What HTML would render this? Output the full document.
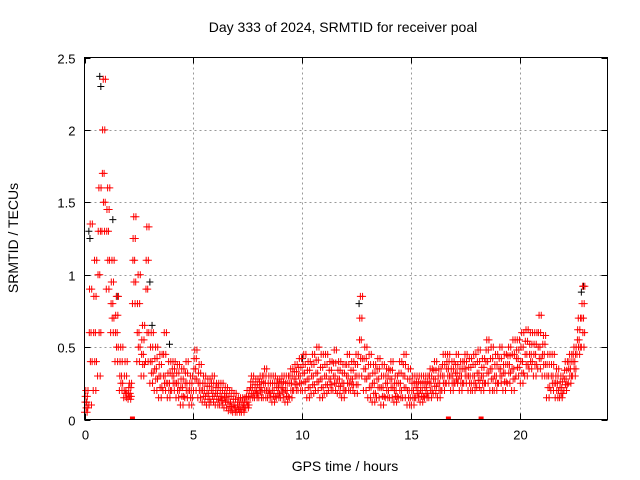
<!DOCTYPE html>
<html><head><meta charset="utf-8"><style>
body{margin:0;background:#fff;}
svg{display:block;font-family:"Liberation Sans",sans-serif;}
</style></head><body>
<svg id="chart" width="640" height="480" viewBox="0 0 640 480">
<text x="343" y="32" font-size="14" text-anchor="middle">Day 333 of 2024, SRMTID for receiver poal</text>
<text x="345" y="471" font-size="14" text-anchor="middle">GPS time / hours</text>
<text x="18" y="238" font-size="14" text-anchor="middle" transform="rotate(-90 18 238)">SRMTID / TECUs</text>
<g id="grid"></g>
<g id="ticks"></g>
<g id="marks"></g>
<rect x="84.5" y="57.5" width="523" height="362" fill="none" stroke="#000"/>
</svg>
<script>
const xTicks=[0,5,10,15,20];
const yTicks=[0,0.5,1,1.5,2,2.5];
const yTickLabels=["0","0.5","1","1.5","2","2.5"];
const redStart=0, redStep=0.2;
const redLo=[.05,.1,.2,.3,1.3,.9,.6,.4,.2,.15,.14,.8,.4,.3,.4,.25,.2,.15,.2,.15,.2,.15,.1,.15,.1,.2,.15,.12,.1,.12,.1,.1,.08,.06,.05,.05,.05,.08,.15,.15,.15,.15,.15,.12,.15,.15,.12,.15,.2,.2,.2,.15,.18,.2,.15,.18,.2,.2,.18,.15,.2,.2,.18,.3,.2,.15,.12,.15,.1,.15,.15,.12,.15,.15,.1,.1,.15,.12,.15,.15,.18,.15,.2,.25,.2,.25,.2,.25,.2,.2,.22,.2,.25,.2,.2,.25,.2,.25,.2,.3,.25,.3,.35,.3,.35,.3,.15,.2,.15,.15,.2,.25,.3,.45,.5];
const redQ1=[.08,.4,.4,.6,1.5,1.1,.7,.5,.25,.18,.16,.95,.5,.38,.6,.32,.28,.22,.25,.2,.25,.2,.16,.2,.15,.28,.2,.16,.14,.16,.14,.13,.12,.09,.08,.07,.08,.1,.18,.18,.19,.2,.18,.16,.18,.19,.16,.2,.24,.25,.26,.22,.24,.26,.22,.24,.24,.25,.23,.2,.25,.24,.24,.42,.28,.22,.18,.22,.16,.2,.22,.16,.2,.22,.15,.15,.18,.16,.18,.2,.23,.2,.25,.3,.25,.28,.25,.3,.25,.25,.27,.25,.32,.28,.25,.3,.26,.32,.28,.36,.32,.38,.4,.38,.42,.38,.22,.25,.2,.18,.24,.3,.35,.5,.6];
const redMid=[.12,.6,.6,1.0,1.7,1.3,.8,.6,.3,.2,.18,1.1,.6,.45,.9,.4,.35,.3,.3,.25,.3,.25,.22,.25,.2,.35,.25,.2,.18,.2,.18,.16,.15,.12,.1,.1,.1,.12,.22,.2,.22,.25,.2,.2,.22,.22,.2,.25,.28,.3,.32,.28,.3,.32,.28,.3,.28,.3,.28,.25,.3,.28,.3,.55,.35,.3,.25,.28,.22,.25,.28,.2,.25,.3,.2,.2,.22,.2,.22,.25,.28,.25,.3,.35,.3,.32,.3,.35,.3,.3,.32,.3,.4,.35,.3,.35,.32,.38,.35,.42,.4,.45,.45,.45,.5,.45,.3,.3,.25,.22,.28,.35,.4,.55,.7];
const redQ3=[.16,.9,.85,1.3,2.0,1.45,.95,.72,.4,.3,.22,1.25,.8,.55,1.1,.5,.42,.38,.45,.32,.35,.32,.28,.32,.25,.42,.32,.25,.23,.25,.22,.2,.18,.16,.14,.12,.12,.16,.26,.24,.26,.3,.25,.25,.25,.26,.25,.3,.33,.36,.38,.34,.38,.41,.36,.38,.34,.39,.34,.32,.38,.34,.38,.7,.42,.38,.32,.35,.3,.3,.34,.25,.32,.38,.28,.25,.26,.25,.26,.3,.34,.3,.38,.4,.35,.38,.35,.4,.36,.38,.4,.36,.48,.42,.38,.42,.38,.44,.45,.48,.5,.54,.52,.52,.6,.52,.38,.38,.3,.26,.34,.4,.45,.62,.8];
const redHi=[.2,1.35,1.1,1.6,2.35,1.6,1.1,.85,.5,.4,.25,1.4,1.0,.65,1.33,.6,.5,.45,.6,.4,.4,.38,.35,.4,.3,.48,.38,.3,.28,.3,.25,.25,.22,.2,.18,.15,.15,.2,.3,.28,.3,.35,.3,.3,.28,.3,.3,.35,.38,.42,.45,.4,.45,.5,.45,.45,.4,.48,.4,.38,.45,.4,.45,.85,.5,.45,.38,.42,.38,.35,.4,.3,.4,.45,.35,.3,.3,.3,.3,.35,.4,.35,.45,.45,.4,.45,.4,.45,.42,.45,.48,.42,.55,.5,.45,.5,.45,.5,.55,.55,.6,.62,.6,.6,.72,.58,.45,.45,.35,.3,.4,.45,.5,.7,.92];
const blackT=[0.7,0.75,0.2,0.25,1.3,1.5,3.0,3.1,3.9,22.9,22.8,12.6,10.0,14.8,0.1];
const blackV=[2.37,2.3,1.3,1.25,1.38,0.85,0.95,0.65,0.52,0.92,0.88,0.8,0.42,0.1,0.12];
const zeroMarkT=[2.2,16.7,18.2];

const X0=84.5,X1=607.5,Y0=419.5,Y1=57.5;
const sx=t=>X0+(t/24)*(X1-X0);
const sy=v=>Y0-(v/2.5)*(Y0-Y1);
const NS="http://www.w3.org/2000/svg";
const grid=document.getElementById('grid'),ticks=document.getElementById('ticks'),marks=document.getElementById('marks');
function mk(tag,attrs,parent){const e=document.createElementNS(NS,tag);for(const k in attrs)e.setAttribute(k,attrs[k]);parent.appendChild(e);return e;}
xTicks.forEach(t=>{
  const x=Math.round(sx(t))+0.5;
  if(t>0){const g=mk('line',{x1:x,y1:Y1,x2:x,y2:Y0,stroke:'#999','stroke-dasharray':'2,3'},grid);
  
  }
  mk('line',{x1:x,y1:Y0,x2:x,y2:Y0-6,stroke:'#000'},ticks);
  mk('line',{x1:x,y1:Y1,x2:x,y2:Y1+6,stroke:'#000'},ticks);
  const l=mk('text',{x:x,y:Y0+20,'font-size':13,'text-anchor':'middle'},ticks);l.textContent=t;
  
  
});
yTicks.forEach((v,i)=>{
  const y=Math.round(sy(v))+0.5;
  if(v>0&&v<2.5){const g=mk('line',{x1:X0,y1:y,x2:X1,y2:y,stroke:'#999','stroke-dasharray':'2,3'},grid);
  
  }
  mk('line',{x1:X0,y1:y,x2:X0+6,y2:y,stroke:'#000'},ticks);
  mk('line',{x1:X1,y1:y,x2:X1-6,y2:y,stroke:'#000'},ticks);
  const l=mk('text',{x:X0-9,y:y+5,'font-size':13,'text-anchor':'end'},ticks);l.textContent=yTickLabels[i];
  
  
});
function plus(t,v,color,name){
  const x=sx(t),y=sy(v);
  const p=mk('path',{d:`M${x-3.5},${y}H${x+3.5}M${x},${y-3.5}V${y+3.5}`,stroke:color,'stroke-width':1,fill:'none'},marks);
  
  
}
blackT.forEach((t,i)=>plus(t,blackV[i],'#000','black-point'));
const series=[[redLo,0],[redQ1,0.15],[redMid,0.1],[redQ3,0.03],[redHi,0.06],[redLo,0.12],[redMid,0.02],[redHi,0.16],[redQ1,0.07],[redQ3,0.13]];
series.forEach(([arr,off])=>arr.forEach((v,i)=>plus(redStart+i*redStep+off,v,'#f00','red-point')));
zeroMarkT.forEach(t=>{
  const r=mk('rect',{x:sx(t)-2.5,y:Y0-3,width:5,height:3,fill:'#f00'},marks);
  
  
});
</script>
</body></html>
